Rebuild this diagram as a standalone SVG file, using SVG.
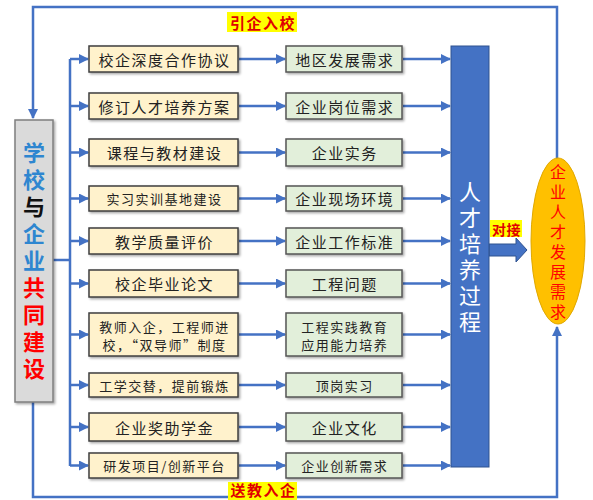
<svg xmlns="http://www.w3.org/2000/svg" width="593" height="500" viewBox="0 0 593 500">
<style>
text{font-family:"Noto Sans CJK SC","Noto Sans",sans-serif}
.c1{fill:#fff2cc;stroke:#3f3f3f;stroke-width:1.5}
.c2{fill:#e2efda;stroke:#555;stroke-width:1.5}
.t{font-size:15px;letter-spacing:1.5px;fill:#222;text-anchor:middle;dominant-baseline:central}
.s{font-size:13px;letter-spacing:1.5px;fill:#222;text-anchor:middle;dominant-baseline:central}
.ln{fill:none;stroke:#4472c4;stroke-width:2.5}
.lab{fill:#ffff00}
.labt{font-size:15px;letter-spacing:1.5px;fill:#e00000;text-anchor:middle;dominant-baseline:central;font-weight:bold}
.vt{writing-mode:vertical-rl;text-orientation:upright;text-anchor:middle}
</style>
<defs>
<marker id="ah" viewBox="0 0 10 10" refX="9" refY="5" markerWidth="4" markerHeight="4" orient="auto" markerUnits="strokeWidth">
<path d="M0,0 L10,5 L0,10 z" fill="#4472c4"/>
</marker>
<filter id="sh" x="-10%" y="-10%" width="130%" height="130%">
<feDropShadow dx="1.5" dy="1.5" stdDeviation="1" flood-color="#000" flood-opacity="0.35"/>
</filter>
</defs>
<rect width="593" height="500" fill="#fff"/>

<g id="connectors">
<path class="ln" d="M557,160 V7 H33 V118" marker-end="url(#ah)"/>
<path class="ln" d="M33,402 V497 H557 V327" marker-end="url(#ah)"/>
<path class="ln" d="M53,260 H70"/>
<path class="ln" d="M70,59 V466"/>
<path class="ln" d="M70,59 H88" marker-end="url(#ah)"/>
<path class="ln" d="M70,106 H88" marker-end="url(#ah)"/>
<path class="ln" d="M70,152.5 H88" marker-end="url(#ah)"/>
<path class="ln" d="M70,198.5 H88" marker-end="url(#ah)"/>
<path class="ln" d="M70,241 H88" marker-end="url(#ah)"/>
<path class="ln" d="M70,283.5 H88" marker-end="url(#ah)"/>
<path class="ln" d="M70,334.5 H88" marker-end="url(#ah)"/>
<path class="ln" d="M70,385 H88" marker-end="url(#ah)"/>
<path class="ln" d="M70,427 H88" marker-end="url(#ah)"/>
<path class="ln" d="M70,465.5 H88" marker-end="url(#ah)"/>
<path class="ln" d="M239,59 H285" marker-end="url(#ah)"/>
<path class="ln" d="M239,106 H285" marker-end="url(#ah)"/>
<path class="ln" d="M239,152.5 H285" marker-end="url(#ah)"/>
<path class="ln" d="M239,198.5 H285" marker-end="url(#ah)"/>
<path class="ln" d="M239,241 H285" marker-end="url(#ah)"/>
<path class="ln" d="M239,283.5 H285" marker-end="url(#ah)"/>
<path class="ln" d="M239,334.5 H285" marker-end="url(#ah)"/>
<path class="ln" d="M239,385 H285" marker-end="url(#ah)"/>
<path class="ln" d="M239,427 H285" marker-end="url(#ah)"/>
<path class="ln" d="M239,465.5 H285" marker-end="url(#ah)"/>
<path class="ln" d="M403,59 H450" marker-end="url(#ah)"/>
<path class="ln" d="M403,106 H450" marker-end="url(#ah)"/>
<path class="ln" d="M403,152.5 H450" marker-end="url(#ah)"/>
<path class="ln" d="M403,198.5 H450" marker-end="url(#ah)"/>
<path class="ln" d="M403,241 H450" marker-end="url(#ah)"/>
<path class="ln" d="M403,283.5 H450" marker-end="url(#ah)"/>
<path class="ln" d="M403,334.5 H450" marker-end="url(#ah)"/>
<path class="ln" d="M403,385 H450" marker-end="url(#ah)"/>
<path class="ln" d="M403,427 H450" marker-end="url(#ah)"/>
<path class="ln" d="M403,465.5 H450" marker-end="url(#ah)"/>
<polygon points="489,244 516,244 516,238 527,250 516,262 516,256 489,256" fill="#4472c4" stroke="#2f528f" stroke-width="1"/>
</g>

<g id="label-top"><rect class="lab" x="227" y="12" width="70" height="20"/><text class="labt" x="263" y="22">引企入校</text></g>
<g id="label-bottom"><rect class="lab" x="228" y="482" width="69" height="18"/><text class="labt" x="263.5" y="489">送教入企</text></g>
<g id="label-dock"><rect class="lab" x="490" y="220" width="32" height="17"/><text class="labt" x="506.5" y="228.5" style="font-size:14px;letter-spacing:0.5px">对接</text></g>

<g id="school">
<rect x="15" y="120" width="38" height="282" fill="#dadada" stroke="#7f7f7f" stroke-width="1.5" filter="url(#sh)"/>
<text class="vt" x="34" y="263.5" style="font-size:22px;letter-spacing:5px;font-weight:bold"><tspan fill="#2e86d0">学校</tspan><tspan fill="#111">与</tspan><tspan fill="#2e86d0">企业</tspan><tspan fill="#ff0000">共同建设</tspan></text>
</g>

<g id="a1"><rect class="c1" x="89" y="46" width="149" height="26" filter="url(#sh)"/><text class="t" x="164.5" y="59">校企深度合作协议</text></g>
<g id="a2"><rect class="c1" x="89" y="93" width="149" height="26" filter="url(#sh)"/><text class="t" x="164.5" y="106">修订人才培养方案</text></g>
<g id="a3"><rect class="c1" x="89" y="139" width="149" height="27" filter="url(#sh)"/><text class="t" x="164.5" y="152.5">课程与教材建设</text></g>
<g id="a4"><rect class="c1" x="89" y="186" width="149" height="25" filter="url(#sh)"/><text class="s" x="164.5" y="198.5">实习实训基地建设</text></g>
<g id="a5"><rect class="c1" x="89" y="228" width="149" height="26" filter="url(#sh)"/><text class="t" x="164.5" y="241">教学质量评价</text></g>
<g id="a6"><rect class="c1" x="89" y="270" width="149" height="27" filter="url(#sh)"/><text class="t" x="164.5" y="283.5">校企毕业论文</text></g>
<g id="a7"><rect class="c1" x="89" y="313" width="149" height="43" filter="url(#sh)"/><text class="s" x="164.5" y="326.5">教师入企，工程师进</text><text class="s" x="164.5" y="344.5">校，“双导师”制度</text></g>
<g id="a8"><rect class="c1" x="89" y="373" width="149" height="24" filter="url(#sh)"/><text class="s" x="164.5" y="385">工学交替，提前锻炼</text></g>
<g id="a9"><rect class="c1" x="89" y="413" width="149" height="28" filter="url(#sh)"/><text class="t" x="164.5" y="427">企业奖助学金</text></g>
<g id="a10"><rect class="c1" x="89" y="453" width="149" height="25" filter="url(#sh)"/><text class="s" x="164.5" y="465.5">研发项目/创新平台</text></g>

<g id="b1"><rect class="c2" x="286" y="46" width="116" height="26" filter="url(#sh)"/><text class="t" x="344.75" y="59">地区发展需求</text></g>
<g id="b2"><rect class="c2" x="286" y="93" width="116" height="26" filter="url(#sh)"/><text class="t" x="344.75" y="106">企业岗位需求</text></g>
<g id="b3"><rect class="c2" x="286" y="139" width="116" height="27" filter="url(#sh)"/><text class="t" x="344.75" y="152.5">企业实务</text></g>
<g id="b4"><rect class="c2" x="286" y="186" width="116" height="25" filter="url(#sh)"/><text class="t" x="344.75" y="198.5">企业现场环境</text></g>
<g id="b5"><rect class="c2" x="286" y="228" width="116" height="26" filter="url(#sh)"/><text class="t" x="344.75" y="241">企业工作标准</text></g>
<g id="b6"><rect class="c2" x="286" y="270" width="116" height="27" filter="url(#sh)"/><text class="t" x="344.75" y="283.5">工程问题</text></g>
<g id="b7"><rect class="c2" x="286" y="313" width="116" height="43" filter="url(#sh)"/><text class="s" x="344.75" y="326.5">工程实践教育</text><text class="s" x="344.75" y="344.5">应用能力培养</text></g>
<g id="b8"><rect class="c2" x="286" y="373" width="116" height="24" filter="url(#sh)"/><text class="s" x="344.75" y="385">顶岗实习</text></g>
<g id="b9"><rect class="c2" x="286" y="413" width="116" height="28" filter="url(#sh)"/><text class="t" x="344.75" y="427">企业文化</text></g>
<g id="b10"><rect class="c2" x="286" y="453" width="116" height="25" filter="url(#sh)"/><text class="s" x="344.75" y="465.5">企业创新需求</text></g>

<g id="process">
<rect x="451" y="46" width="38" height="421" fill="#4472c4" stroke="#2f528f" stroke-width="1"/>
<text class="vt" x="470" y="259" style="font-size:22px;letter-spacing:4px;fill:#fff">人才培养过程</text>
</g>

<g id="demand">
<ellipse cx="558" cy="241" rx="27" ry="83" fill="#ffc000" stroke="#e0a800" stroke-width="1"/>
<text class="vt" x="558" y="244" style="font-size:16px;letter-spacing:4px;fill:#ff0000">企业人才发展需求</text>
</g>
</svg>
